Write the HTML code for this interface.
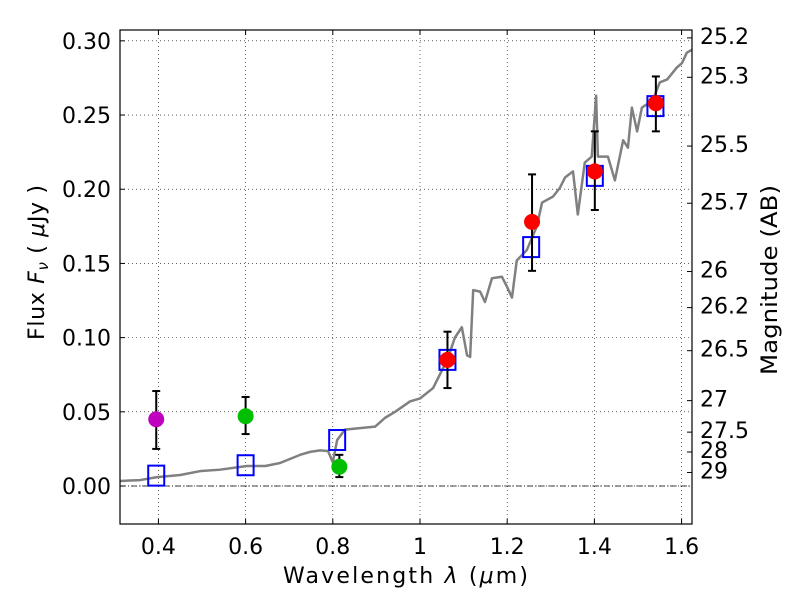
<!DOCTYPE html>
<html><head><meta charset="utf-8"><style>
body{margin:0;background:#fff;}
svg text{font-family:"DejaVu Sans","Liberation Sans",sans-serif;fill:#000;}
</style></head><body>
<svg id="chart" width="800" height="600" xmlns="http://www.w3.org/2000/svg"></svg>
<script>
const specWave=[0.312,0.358,0.397,0.450,0.495,0.541,0.603,0.645,0.679,0.725,0.748,0.771,0.789,0.800,0.810,0.828,0.862,0.897,0.920,0.943,0.977,1.000,1.030,1.064,1.080,1.096,1.108,1.115,1.122,1.138,1.149,1.165,1.188,1.200,1.211,1.222,1.245,1.268,1.280,1.305,1.321,1.333,1.351,1.362,1.378,1.394,1.404,1.408,1.431,1.447,1.466,1.477,1.486,1.498,1.509,1.534,1.550,1.567,1.589,1.601,1.612,1.624];
const specFlux=[0.0034,0.004,0.006,0.0074,0.010,0.011,0.0135,0.0135,0.0155,0.021,0.023,0.024,0.0236,0.016,0.031,0.038,0.039,0.040,0.046,0.050,0.057,0.059,0.066,0.086,0.100,0.107,0.088,0.087,0.132,0.131,0.124,0.140,0.141,0.134,0.127,0.152,0.159,0.175,0.191,0.195,0.201,0.208,0.212,0.183,0.218,0.222,0.263,0.222,0.222,0.206,0.233,0.228,0.255,0.239,0.255,0.260,0.272,0.274,0.282,0.285,0.292,0.294];
const modelWave=[0.395,0.6,0.81,1.063,1.255,1.401,1.54];
const modelFlux=[0.007,0.014,0.031,0.085,0.161,0.209,0.256];
const obsWave=[0.395,0.6,0.815,1.063,1.257,1.401,1.541];
const obsFlux=[0.045,0.047,0.013,0.085,0.178,0.212,0.258];
const obsLo=[0.025,0.035,0.006,0.066,0.145,0.186,0.239];
const obsHi=[0.064,0.060,0.021,0.104,0.210,0.239,0.276];
const obsColor=['#bf00bf','#00bf00','#00bf00','#ff0000','#ff0000','#ff0000','#ff0000'];
const xTicks=[0.4,0.6,0.8,1.0,1.2,1.4,1.6];
const xTickLabels=['0.4','0.6','0.8','1','1.2','1.4','1.6'];
const yTicks=[0,0.05,0.10,0.15,0.20,0.25,0.30];
const yTickLabels=['0.00','0.05','0.10','0.15','0.20','0.25','0.30'];
const magTicks=[25.2,25.3,25.5,25.7,26,26.2,26.5,27,27.5,28,29];
const magLabels=['25.2','25.3','25.5','25.7','26','26.2','26.5','27','27.5','28','29'];

const L=120,R=692,T=30,B=524;
const X0=0.3119,X1=1.6239,Y0=-0.0256,Y1=0.3073;
const sx=v=>L+(v-X0)/(X1-X0)*(R-L);
const sy=v=>B-(v-Y0)/(Y1-Y0)*(B-T);
const svg=document.getElementById('chart');
const NS='http://www.w3.org/2000/svg';
function mk(tag,attrs,parent){const e=document.createElementNS(NS,tag);for(const k in attrs)e.setAttribute(k,attrs[k]);(parent||svg).appendChild(e);return e;}

xTicks.forEach((t,i)=>{
  const g=mk('line',{x1:sx(t),x2:sx(t),y1:T,y2:B,stroke:'#000','stroke-width':0.6,'stroke-dasharray':'1,3'});
  
  
  mk('line',{x1:sx(t),x2:sx(t),y1:B,y2:B-5,stroke:'#000','stroke-width':1});
  mk('line',{x1:sx(t),x2:sx(t),y1:T,y2:T+5,stroke:'#000','stroke-width':1});
  const tx=mk('text',{x:sx(t),y:B+30,'font-size':22,'text-anchor':'middle'});
  tx.textContent=xTickLabels[i];
  
  
});
yTicks.forEach((t,i)=>{
  const g=mk('line',{x1:L,x2:R,y1:sy(t),y2:sy(t),stroke:'#000','stroke-width':0.6,'stroke-dasharray':'1,3'});
  
  
  mk('line',{x1:L,x2:L+5,y1:sy(t),y2:sy(t),stroke:'#000','stroke-width':1});
  const tx=mk('text',{x:L-9,y:sy(t)+8,'font-size':22,'text-anchor':'end'});
  tx.textContent=yTickLabels[i];
  
  
});
const zl=mk('line',{x1:L,x2:R,y1:sy(0),y2:sy(0),stroke:'#000','stroke-width':0.8,'stroke-dasharray':'6,2,1,2'});


magTicks.forEach((m,i)=>{
  const f=Math.pow(10,(23.9-m)/2.5);
  const y=sy(f);
  mk('line',{x1:R-5,x2:R,y1:y,y2:y,stroke:'#000','stroke-width':1});
  const tx=mk('text',{x:R+8,y:y+6,'font-size':22});
  tx.textContent=magLabels[i];
  
  
});
const sp=mk('polyline',{points:specWave.map((w,i)=>sx(w)+','+sy(specFlux[i])).join(' '),fill:'none',stroke:'#808080','stroke-width':2.5,'stroke-linejoin':'round'});


modelWave.forEach((w,i)=>{
  const r=mk('rect',{x:sx(w)-8,y:sy(modelFlux[i])-10,width:16,height:20,fill:'none',stroke:'#0000ff','stroke-width':2});
  
  
});
obsWave.forEach((w,i)=>{
  const x=sx(w);
  const eb=mk('g',{stroke:'#000','stroke-width':2});
  
  
  mk('line',{x1:x,x2:x,y1:sy(obsLo[i]),y2:sy(obsHi[i])},eb);
  mk('line',{x1:x-4,x2:x+4,y1:sy(obsLo[i]),y2:sy(obsLo[i])},eb);
  mk('line',{x1:x-4,x2:x+4,y1:sy(obsHi[i]),y2:sy(obsHi[i])},eb);
  const c=mk('circle',{cx:x,cy:sy(obsFlux[i]),r:8,fill:obsColor[i]});
  
  
});
const fr=mk('rect',{x:L,y:T,width:R-L,height:B-T,fill:'none',stroke:'#000','stroke-width':1.2});


const xt=mk('text',{x:283,y:583,'font-size':22,textLength:245,lengthAdjust:'spacing'});
xt.innerHTML='Wavelength  <tspan font-style="italic">λ</tspan> (<tspan font-style="italic">μ</tspan>m)';
xt.setAttribute('xml:space','preserve');


const yt=mk('text',{x:0,y:0,'font-size':22,transform:'translate(44,340) rotate(-90)',textLength:155,lengthAdjust:'spacing'});
yt.innerHTML='Flux  <tspan font-style="italic">F</tspan><tspan font-style="italic" font-size="15" dy="4">ν</tspan><tspan dy="-4">  (  </tspan><tspan font-style="italic">μ</tspan>Jy )';
yt.setAttribute('xml:space','preserve');


const rt=mk('text',{x:0,y:0,'font-size':22,transform:'translate(777,375) rotate(-90)',textLength:190,lengthAdjust:'spacingAndGlyphs'});
rt.textContent='Magnitude (AB)';


</script>
</body></html>
